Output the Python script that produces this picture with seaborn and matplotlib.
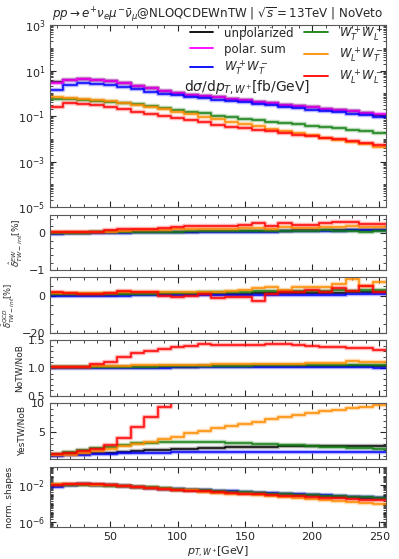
import matplotlib
matplotlib.use("Agg")
import matplotlib.pyplot as plt
import matplotlib.ticker as mticker
import numpy as np
import seaborn as sns

# bin edges in p_T,W+ [GeV]
edges = np.arange(5, 256, 10)

labels = ["unpolarized", "polar. sum", "$W^+_T W^-_T$",
          "$W^+_T W^-_L$", "$W^+_L W^-_T$", "$W^+_L W^-_L$"]
colors = ["black", "#ff00ff", "#0000ff", "#138013", "#ff8c00", "#ff0000"]

# main panel: dsigma/dpT [fb/GeV]
xs_unpol = [3.1, 3.9, 4.25, 3.85, 3.35, 2.72, 2.1, 1.66, 1.3, 1.06, 0.87, 0.75, 0.66,
            0.57, 0.5, 0.43, 0.37, 0.32, 0.28, 0.245, 0.21, 0.185, 0.16, 0.14, 0.115]
xs_polsum = [2.9, 3.8, 4.2, 3.8, 3.35, 2.7, 2.1, 1.65, 1.3, 1.06, 0.87, 0.75, 0.66,
             0.575, 0.5, 0.43, 0.37, 0.32, 0.28, 0.245, 0.21, 0.186, 0.162, 0.141, 0.117]
xs_TT = [1.39, 2.3, 2.7, 2.65, 2.4, 1.95, 1.54, 1.18, 0.96, 0.81, 0.69, 0.6, 0.525,
         0.47, 0.4, 0.345, 0.3, 0.257, 0.224, 0.19, 0.166, 0.145, 0.123, 0.107, 0.089]
xs_TL = [0.54, 0.54, 0.5, 0.47, 0.43, 0.39, 0.33, 0.275, 0.23, 0.18, 0.155, 0.13, 0.1,
         0.087, 0.076, 0.066, 0.057, 0.05, 0.044, 0.038, 0.033, 0.029, 0.025, 0.022, 0.0187]
xs_LT = [0.71, 0.64, 0.58, 0.5, 0.44, 0.37, 0.32, 0.26, 0.195, 0.155, 0.123, 0.093, 0.071,
         0.056, 0.045, 0.035, 0.028, 0.022, 0.018, 0.014, 0.011, 0.0089, 0.0071, 0.0056, 0.0042]
xs_LL = [0.26, 0.36, 0.34, 0.3, 0.24, 0.195, 0.155, 0.126, 0.102, 0.081, 0.064, 0.052, 0.04,
         0.034, 0.029, 0.0245, 0.021, 0.018, 0.015, 0.013, 0.011, 0.0095, 0.0079, 0.0066, 0.0054]

# EW TW-int correction [%]
ew_unpol = [0.0, 0.02, 0.02, 0.03, 0.03, 0.04, 0.04, 0.04, 0.05, 0.05, 0.05, 0.06, 0.06,
            0.06, 0.07, 0.07, 0.07, 0.07, 0.08, 0.08, 0.08, 0.09, 0.09, 0.09, 0.09]
ew_TT = [-0.01, 0.01, 0.01, 0.02, 0.02, 0.02, 0.03, 0.03, 0.03, 0.03, 0.04, 0.04, 0.04,
         0.05, 0.05, 0.05, 0.05, 0.06, 0.06, 0.07, 0.07, 0.07, 0.08, 0.08, 0.08]
ew_TL = [0.02, 0.02, 0.02, 0.03, 0.03, 0.04, 0.04, 0.05, 0.05, 0.05, 0.06, 0.06, 0.06,
         0.07, 0.06, 0.07, 0.07, 0.06, 0.07, 0.07, 0.08, 0.07, 0.07, 0.05, 0.06]
ew_LT = [0.03, 0.03, 0.03, 0.04, 0.05, 0.07, 0.08, 0.09, 0.1, 0.11, 0.12, 0.13, 0.13,
         0.13, 0.14, 0.15, 0.13, 0.16, 0.15, 0.14, 0.16, 0.18, 0.19, 0.16, 0.16]
ew_LL = [0.05, 0.04, 0.04, 0.05, 0.08, 0.12, 0.13, 0.13, 0.15, 0.17, 0.19, 0.21, 0.21,
         0.19, 0.22, 0.27, 0.21, 0.27, 0.24, 0.24, 0.27, 0.3, 0.31, 0.25, 0.25]

# QCD TW-int correction [%]
qcd_unpol = [0.5, 0.5, 0.5, 0.6, 0.6, 0.7, 0.7, 0.8, 0.8, 0.9, 0.9, 1.0, 1.0,
             1.1, 1.1, 1.2, 1.3, 1.2, 1.4, 1.5, 1.5, 1.6, 1.7, 1.7, 1.8]
qcd_TT = [-0.2, -0.2, -0.1, -0.1, 0.0, 0.0, 0.1, 0.1, 0.1, 0.2, 0.2, 0.3, 0.3,
          0.3, 0.4, 0.4, 0.5, 0.5, 0.5, 0.6, 0.6, 0.6, 0.7, 0.7, 0.7]
qcd_TL = [0.9, 1.0, 0.8, 0.9, 1.0, 1.1, 1.1, 1.1, 1.3, 1.4, 1.5, 1.7, 1.8,
          2.0, 2.2, 2.3, 2.4, 2.3, 2.5, 2.4, 2.6, 2.8, 2.7, 2.8, 2.9]
qcd_LT = [1.3, 1.2, 1.3, 1.4, 1.5, 1.7, 1.8, 1.8, 1.7, 1.9, 2.0, 2.1, 2.2,
          2.7, 3.1, 4.0, 4.5, 3.1, 4.7, 4.5, 4.9, 6.1, 8.8, 5.4, 7.2]
qcd_LL = [2.2, 1.3, 0.9, 0.9, 1.3, 2.5, 1.8, 1.8, -0.3, -0.5, -0.4, 0.9, -1.1,
          -0.7, -0.6, -2.7, 1.1, 1.8, 2.2, 2.9, 2.2, 4.0, 2.5, 5.4, 2.2]

# NoTW / NoB
notw_unpol = [1.01, 1.01, 1.012, 1.015, 1.015, 1.018, 1.02, 1.02, 1.022, 1.025, 1.025, 1.027, 1.028,
              1.03, 1.03, 1.03, 1.032, 1.033, 1.033, 1.035, 1.035, 1.035, 1.036, 1.036, 1.036]
notw_TT = [1.0, 1.0, 1.002, 1.004, 1.005, 1.006, 1.007, 1.008, 1.008, 1.009, 1.01, 1.01, 1.01,
           1.011, 1.011, 1.012, 1.012, 1.012, 1.013, 1.013, 1.013, 1.013, 1.014, 1.014, 1.005]
notw_TL = [1.01, 1.01, 1.012, 1.015, 1.018, 1.02, 1.022, 1.025, 1.027, 1.03, 1.032, 1.035, 1.037,
           1.04, 1.042, 1.045, 1.045, 1.047, 1.05, 1.05, 1.05, 1.052, 1.052, 1.053, 1.053]
notw_LT = [1.02, 1.02, 1.025, 1.03, 1.035, 1.04, 1.045, 1.05, 1.05, 1.055, 1.06, 1.06, 1.065,
           1.07, 1.07, 1.075, 1.075, 1.08, 1.08, 1.085, 1.09, 1.09, 1.12, 1.1, 1.1]
notw_LL = [1.012, 1.012, 1.024, 1.065, 1.113, 1.19, 1.274, 1.31, 1.345, 1.38, 1.393, 1.42, 1.41,
           1.405, 1.405, 1.405, 1.42, 1.43, 1.417, 1.393, 1.38, 1.38, 1.363, 1.363, 1.32]

# YesTW / NoB
yes_unpol = [1.18, 1.3, 1.4, 1.5, 1.6, 1.75, 1.85, 1.95, 2.05, 2.14, 2.25, 2.35, 2.45,
             2.5, 2.55, 2.6, 2.62, 2.65, 2.67, 2.7, 2.7, 2.7, 2.72, 2.72, 2.72]
yes_TT = [1.07, 1.15, 1.25, 1.3, 1.4, 1.45, 1.5, 1.55, 1.6, 1.65, 1.68, 1.7, 1.7,
          1.72, 1.72, 1.72, 1.72, 1.72, 1.72, 1.72, 1.72, 1.72, 1.72, 1.72, 1.72]
yes_TL = [1.35, 1.74, 2.02, 2.3, 2.59, 2.88, 3.16, 3.27, 3.38, 3.44, 3.44, 3.44, 3.38,
          3.27, 3.16, 3.05, 2.97, 2.9, 2.8, 2.72, 2.6, 2.5, 2.4, 2.3, 2.2]
yes_LT = [1.18, 1.25, 1.57, 1.9, 2.14, 2.7, 3.05, 3.44, 3.84, 4.28, 4.85, 5.25, 5.7,
          6.1, 6.44, 6.83, 7.23, 7.68, 7.96, 8.36, 8.7, 8.8, 9.1, 9.37, 9.66]
yes_LL = [1.35, 1.45, 1.8, 2.2, 2.9, 4.0, 5.9, 7.6, 9.3, 11.5, 14, 17, 20,
          24, 28, 32, 36, 40, 45, 50, 55, 60, 65, 70, 75]


def step(ax, vals, color, lw=1.1):
    y = np.append(vals, vals[-1])
    # light band underneath, then the line itself
    sns.lineplot(x=edges, y=y, drawstyle="steps-post", color=color, lw=3.2,
                 alpha=0.3, estimator=None, ax=ax)
    sns.lineplot(x=edges, y=y, drawstyle="steps-post", color=color, lw=lw,
                 estimator=None, ax=ax)


def style_axis(ax, show_x=False):
    ax.set_xlim(5, 255)
    ax.xaxis.set_major_locator(mticker.MultipleLocator(50))
    ax.xaxis.set_minor_locator(mticker.MultipleLocator(10))
    ax.tick_params(which="both", direction="in", top=True, right=True,
                   labelsize=8, colors="0.15")
    ax.tick_params(which="major", length=4)
    ax.tick_params(which="minor", length=2)
    for sp in ax.spines.values():
        sp.set_color("0.35")
        sp.set_linewidth(0.8)
    if not show_x:
        ax.tick_params(labelbottom=False)
    ax.set_xlabel("")


sns.set_style("ticks")
plt.rcParams["font.family"] = ["DejaVu Sans"]
plt.rcParams["mathtext.fontset"] = "dejavusans"

fig = plt.figure(figsize=(3.99, 5.59), dpi=100)
L, W = 50 / 399, 336 / 399
ylab_size = 6.5


def panel(top, bottom):
    return fig.add_axes([L, 1 - bottom / 559, W, (bottom - top) / 559])


ax0 = panel(25, 207)
ax1 = panel(215, 270)
ax2 = panel(277, 333)
ax3 = panel(340, 396)
ax4 = panel(403, 459)
ax5 = panel(467, 527)

# main panel
main = [xs_unpol, xs_polsum, xs_TT, xs_TL, xs_LT, xs_LL]
for vals, c, lab in zip(main, colors, labels):
    step(ax0, vals, c)
ax0.set_yscale("log")
ax0.set_ylim(1e-5, 1e3)
ax0.set_yticks([1e-5, 1e-3, 1e-1, 1e1, 1e3])
ax0.yaxis.set_minor_locator(mticker.LogLocator(base=10, subs="all", numticks=20))
ax0.yaxis.set_minor_formatter(mticker.NullFormatter())
style_axis(ax0)
handles = [plt.Line2D([], [], color=c, lw=1.3) for c in colors]
ax0.legend(handles, labels, ncol=2, frameon=False, loc="upper right",
           fontsize=8.5, handlelength=2.0, columnspacing=0.9, handletextpad=0.9,
           labelspacing=0.25, borderaxespad=0.0, borderpad=0.2,
           bbox_to_anchor=(1.0, 1.02))
ax0.text(0.40, 0.64, "d$\\sigma$/d$p_{T,W^{+}}$[fb/GeV]", transform=ax0.transAxes,
         fontsize=10)
ax0.set_title("$pp\\to e^{+}\\nu_e\\mu^{-}\\bar{\\nu}_\\mu$@NLOQCDEWnTW | $\\sqrt{s}=13$TeV | NoVeto",
              fontsize=8.6, pad=3)
ax0.set_ylabel("")

ratio_order = [0, 2, 3, 4, 5]

ew = [ew_unpol, ew_TT, ew_TL, ew_LT, ew_LL]
for vals, i in zip(ew, ratio_order):
    step(ax1, vals, colors[i])
ax1.set_ylim(-1, 0.5)
ax1.yaxis.set_major_locator(mticker.MultipleLocator(1))
ax1.yaxis.set_minor_locator(mticker.MultipleLocator(0.2))
style_axis(ax1)
ax1.set_ylabel("$\\hat{\\delta}^{EW}_{TW-int}$[%]", fontsize=ylab_size, labelpad=3)

qcd = [qcd_unpol, qcd_TT, qcd_TL, qcd_LT, qcd_LL]
for vals, i in zip(qcd, ratio_order):
    step(ax2, vals, colors[i])
ax2.set_ylim(-20, 10)
ax2.yaxis.set_major_locator(mticker.MultipleLocator(20))
ax2.yaxis.set_minor_locator(mticker.MultipleLocator(5))
style_axis(ax2)
ax2.set_ylabel("$\\hat{\\delta}^{QCD}_{TW-int}$[%]", fontsize=6.0, labelpad=3)

notw = [notw_unpol, notw_TT, notw_TL, notw_LT, notw_LL]
for vals, i in zip(notw, ratio_order):
    step(ax3, vals, colors[i])
ax3.set_ylim(0.5, 1.5)
ax3.yaxis.set_major_locator(mticker.MultipleLocator(0.5))
ax3.yaxis.set_minor_locator(mticker.MultipleLocator(0.1))
style_axis(ax3)
ax3.set_ylabel("NoTW/NoB", fontsize=ylab_size, labelpad=3)

yes = [yes_unpol, yes_TT, yes_TL, yes_LT, yes_LL]
for vals, i in zip(yes, ratio_order):
    step(ax4, vals, colors[i])
ax4.set_ylim(0.5, 10)
ax4.yaxis.set_major_locator(mticker.MultipleLocator(5))
ax4.yaxis.set_minor_locator(mticker.MultipleLocator(1))
style_axis(ax4)
ax4.set_ylabel("YesTW/NoB", fontsize=ylab_size, labelpad=3)

# normalised shapes: each distribution divided by its integral
for vals, i in zip([xs_unpol, xs_TT, xs_TL, xs_LT, xs_LL], ratio_order):
    v = np.array(vals)
    step(ax5, v / (v.sum() * 10.0), colors[i])
ax5.set_yscale("log")
ax5.set_ylim(2.5e-7, 1)
ax5.set_yticks([1e-6, 1e-2])
ax5.yaxis.set_minor_locator(mticker.LogLocator(base=10, subs="all", numticks=20))
ax5.yaxis.set_minor_formatter(mticker.NullFormatter())
style_axis(ax5, show_x=True)
ax5.set_ylabel("norm. shapes", fontsize=ylab_size, labelpad=3)
ax5.set_xlabel("$p_{T,W^{+}}$[GeV]", fontsize=8, labelpad=2)

fig.savefig("out.png", dpi=100)
